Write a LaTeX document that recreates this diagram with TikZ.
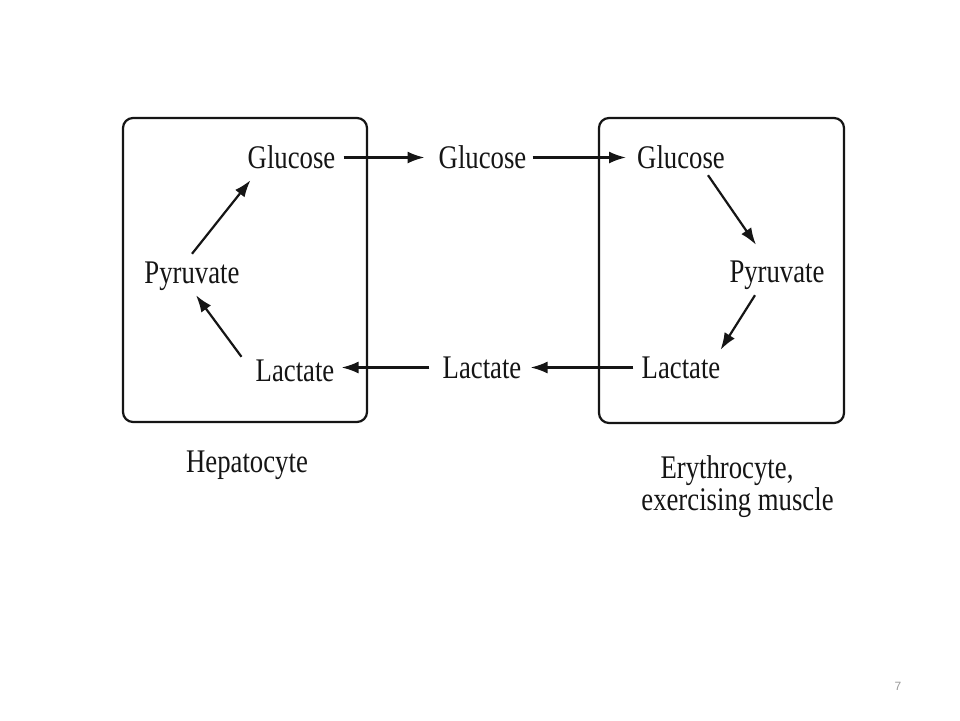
\documentclass[tikz,border=0pt]{standalone}
\usepackage{fontspec}
\usetikzlibrary{arrows.meta}
\newfontfamily\labfont[FakeStretch=0.81]{Liberation Serif}
\newfontfamily\pgfont{Liberation Sans}
\definecolor{ink}{HTML}{151515}
\definecolor{pgnum}{HTML}{999999}
\begin{document}
\begin{tikzpicture}[x=1pt,y=-1pt,
  lab/.style={inner sep=3pt, anchor=base, text=ink,
    font=\labfont\fontsize{33}{34}\selectfont, text height=21pt, text depth=0pt},
  celltitle/.style={inner sep=0pt, anchor=base, text=ink, align=center,
    font=\labfont\fontsize{33}{33}\selectfont},
  cell/.style={draw=ink, line width=2.2pt, rounded corners=10pt},
  arr/.style={draw=ink, line width=2.2pt, -{Latex[length=17pt,width=12pt]}}]
\useasboundingbox[fill=white] (0,0) rectangle (960,720);
% boxes
\draw[cell] (123,118) rectangle (367,422);
\draw[cell] (599,118) rectangle (844,423);
% labels
\node[lab] (glL) at (291.5,168) {Glucose};
\node[lab] (glM) at (482.5,168) {Glucose};
\node[lab] (glR) at (681,168) {Glucose};
\node[lab] (pyL) at (192,283) {Pyruvate};
\node[lab] (pyR) at (777,282) {Pyruvate};
\node[lab] (lcL) at (295,381) {Lactate};
\node[lab] (lcM) at (482,378) {Lactate};
\node[lab] (lcR) at (681,378) {Lactate};
\node[celltitle] (hep) at (247,472) {Hepatocyte};
\node[celltitle] (ery) at (727,478) {Erythrocyte,};
\node[celltitle] (exm) at (737.5,510) {exercising muscle};
\node[inner sep=0pt, text=pgnum, font=\pgfont\fontsize{12}{12}\selectfont] (pg) at (898,686) {7};
% horizontal arrows
\draw[arr, shorten <=5pt, shorten >=11pt] (glL.east) -- (glM.west);
\draw[arr, shorten <=3pt, shorten >=8pt] (glM.east) -- (glR.west);
\draw[arr, shorten <=5pt, shorten >=6pt] (lcR.west) -- (lcM.east);
\draw[arr, shorten <=10pt, shorten >=4pt] (lcM.west) -- (lcM.west -| lcL.east);
% left cycle
\draw[arr] ([yshift=5pt]pyL.north) -- ([xshift=6pt,yshift=-9pt]glL.south west);
\draw[arr] ([xshift=-11pt]lcL.north west) -- ([xshift=4pt,yshift=-9pt]pyL.south);
% right cycle
\draw[arr] ([xshift=27pt,yshift=-4pt]glR.south) -- ([xshift=-21pt,yshift=13pt]pyR.north);
\draw[arr] ([xshift=-22pt,yshift=-10pt]pyR.south) -- ([xshift=-3pt,yshift=4pt]lcR.north east);
\end{tikzpicture}
\end{document}
